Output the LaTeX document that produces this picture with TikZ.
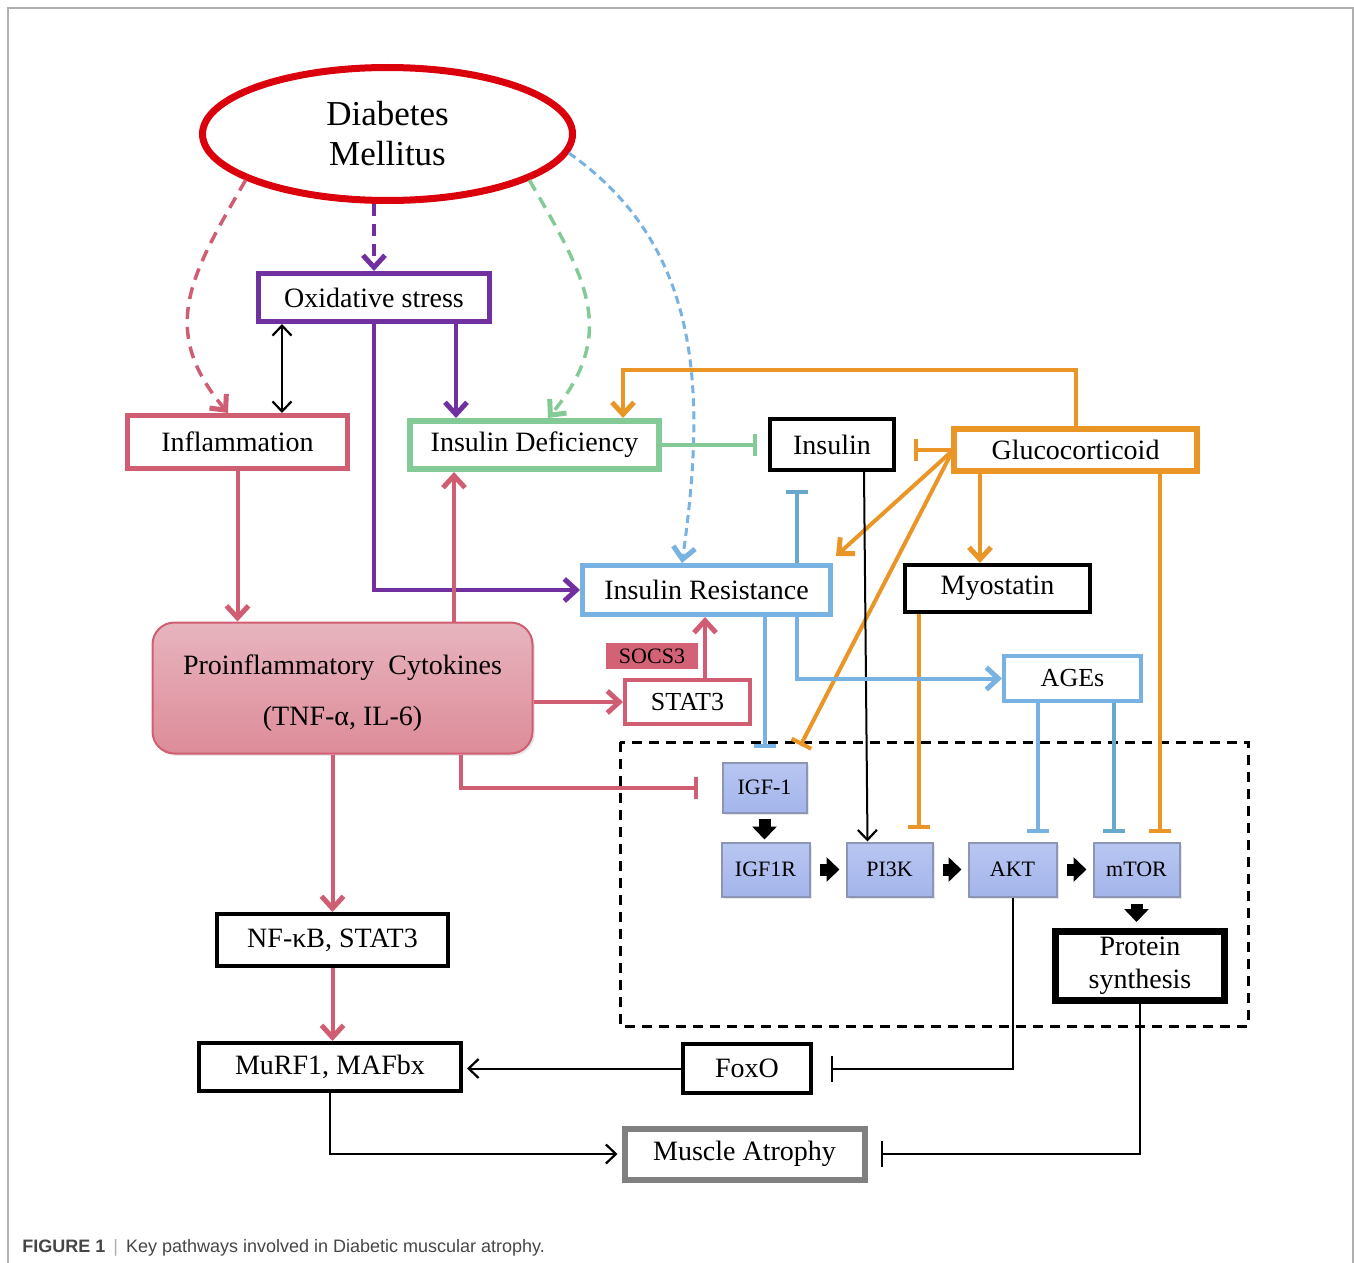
\documentclass[tikz,border=0pt]{standalone}
\usepackage{fontspec}
\setmainfont{Liberation Serif}
\newfontfamily\capfont{Liberation Sans}
\usepackage{xcolor}
\usetikzlibrary{arrows.meta,shapes.geometric,shadows}

\definecolor{dmred}{RGB}{218,0,12}
\definecolor{oxpurple}{RGB}{112,48,160}
\definecolor{infpink}{RGB}{208,94,114}
\definecolor{defgreen}{RGB}{132,202,150}
\definecolor{gcorange}{RGB}{234,150,38}
\definecolor{resblue}{RGB}{120,178,226}
\definecolor{tealblue}{RGB}{104,168,204}
\definecolor{kinfill}{RGB}{164,181,235}
\definecolor{kintop}{RGB}{184,198,241}
\definecolor{kinedge}{RGB}{140,150,180}
\definecolor{cytotop}{RGB}{231,180,190}
\definecolor{cytobot}{RGB}{221,140,153}
\definecolor{socsfill}{RGB}{212,98,118}
\definecolor{atrgray}{RGB}{128,128,128}
\definecolor{framegray}{RGB}{175,175,175}
\definecolor{capgray}{RGB}{70,70,70}

\begin{document}
\begin{tikzpicture}[
    x=0.5pt, y=-0.5pt,
    box/.style={draw, line width=2pt, fill=white, inner sep=0pt, align=center,
                font=\fontsize{14}{16}\selectfont,
                drop shadow={opacity=0.18, shadow xshift=1.2pt, shadow yshift=-1.2pt}},
    kin/.style={draw=kinedge, line width=1pt, top color=kintop, bottom color=kinfill,
                inner sep=0pt, minimum width=43pt, minimum height=27pt,
                font=\fontsize{11}{13}\selectfont,
                drop shadow={opacity=0.18, shadow xshift=1.2pt, shadow yshift=-1.2pt}},
    act/.style={line width=2pt, -{Straight Barb[length=6pt,width=11pt,line width=2.5pt]}},
    inh/.style={line width=2pt, -{Bar[width=11pt]}},
    lnk/.style={line width=1pt, draw=black},
    dsh/.style={dash pattern=on 6pt off 4pt},
    blk/.style={line width=6pt, -{Triangle[length=6.5pt,width=12pt]}, shorten <=2.5pt, shorten >=1pt},
    >={Straight Barb[length=5pt,width=9.5pt,line width=1.1pt]}
  ]
  \useasboundingbox (0,0) rectangle (1354,1263);
  \draw[framegray, line width=1pt] (8,1263) -- (8,8) -- (1353,8) -- (1353,1263);

  \node[ellipse, draw=dmred, line width=3.5pt, fill=white, inner sep=0pt,
        minimum width=185pt, minimum height=66.5pt, align=center,
        font=\fontsize{17.5}{20}\selectfont] (dm) at (387.5,134) {Diabetes\\Mellitus};
  \node[box, draw=oxpurple, line width=2.5pt, minimum width=115.5pt, minimum height=24pt] (oxi) at (374,297.5) {Oxidative stress};
  \node[box, draw=infpink, line width=2.5pt, minimum width=110pt, minimum height=26.5pt] (infl) at (237.5,442) {Inflammation};
  \node[box, draw=defgreen, line width=3pt, minimum width=124.5pt, minimum height=24pt] (insdef) at (534.5,445) {Insulin Deficiency};
  \node[box, minimum width=62pt, minimum height=25.5pt] (insulin) at (832,444.5) {Insulin};
  \node[box, draw=gcorange, line width=3pt, minimum width=121.5pt, minimum height=21pt] (gluco) at (1075.5,450) {Glucocorticoid};
  \node[box, draw=resblue, line width=2.5pt, minimum width=124pt, minimum height=24.5pt] (insres) at (706.5,590) {Insulin Resistance};
  \node[box, minimum width=92.5pt, minimum height=23.5pt] (myo) at (997.5,588.5) {Myostatin};
  \node[box, draw=infpink, line width=1pt, rounded corners=11pt, top color=cytotop, bottom color=cytobot,
        minimum width=190pt, minimum height=65.5pt, font=\fontsize{14}{25.5}\selectfont] (cyto) at (342.5,688) {\rule{0pt}{14.8pt}Proinflammatory\ \ Cytokines\\(TNF-α, IL-6)};
  \node[fill=socsfill, inner sep=0pt, minimum width=46pt, minimum height=13pt,
        font=\fontsize{11}{13}\selectfont] (socs) at (652,656) {SOCS3};
  \node[box, draw=infpink, minimum width=62.5pt, minimum height=22pt, font=\fontsize{13}{15}\selectfont] (stat3) at (687.5,702) {STAT3};
  \node[box, draw=resblue, minimum width=68.5pt, minimum height=22.5pt, font=\fontsize{13}{15}\selectfont] (ages) at (1072.5,678.5) {AGEs};

  \draw[line width=1.5pt, dash pattern=on 5pt off 3.5pt] (620,742) rectangle (1248,1026);

  \node[kin, minimum width=42pt, minimum height=25pt] (igf1) at (764.5,787.5) {IGF-1};
  \node[kin, minimum width=44pt] (igf1r) at (765.5,869.5) {IGF1R};
  \node[kin] (pi3k) at (889.5,869.5) {PI3K};
  \node[kin, minimum width=44pt] (akt) at (1012.5,869.5) {AKT};
  \node[kin] (mtor) at (1136.5,869.5) {mTOR};
  \node[box, line width=3.5pt, minimum width=84.5pt, minimum height=34.5pt, font=\fontsize{14}{16.5}\selectfont] (prot) at (1140,966) {Protein\\synthesis};
  \node[box, minimum width=115.5pt, minimum height=26pt] (nfkb) at (332.5,940) {NF-κB, STAT3};
  \node[box, minimum width=131pt, minimum height=24pt] (murf) at (330,1067) {MuRF1, MAFbx};
  \node[box, minimum width=64pt, minimum height=24.5pt] (foxo) at (747,1068.5) {FoxO};
  \node[box, draw=atrgray, line width=3pt, minimum width=120pt, minimum height=25.5pt] (atro) at (744.5,1154) {Muscle Atrophy};

  \node[anchor=west, inner sep=0pt, text=capgray, font=\capfont\fontsize{9}{11}\selectfont] (cap) at (22,1248)
    {\textbf{FIGURE 1}\hspace{4pt}{\color{framegray}|}\hspace{4pt}Key pathways involved in Diabetic muscular atrophy.};

  \draw[act, draw=oxpurple, dsh] (dm.south -| oxi.north) -- (oxi.north);
  \draw[act, draw=infpink, dsh, line width=1.75pt] (dm.198) to[out=240, in=130, looseness=1.2] ([xshift=-4.75pt]infl.north);
  \draw[act, draw=defgreen, dsh, line width=1.75pt] (dm.-18) to[out=-60, in=50, looseness=1.2] ([xshift=6.75pt]insdef.north);
  \draw[act, draw=resblue, dash pattern=on 4pt off 2.5pt, line width=1.5pt] (dm.-6) to[out=-35, in=82] ([xshift=-12.25pt]insres.north);

  \draw[lnk, <->] ([xshift=22.25pt]infl.north |- oxi.south) -- ([xshift=22.25pt]infl.north);
  \draw[act, draw=oxpurple] ([xshift=-39.25pt]insdef.north |- oxi.south) -- ([xshift=-39.25pt]insdef.north);
  \draw[act, draw=oxpurple] (oxi.south) |- (insres.west);

  \draw[act, draw=infpink] (infl.south) -- (infl.south |- cyto.north);
  \draw[act, draw=infpink] ([xshift=-40.25pt]insdef.south |- cyto.north) -- ([xshift=-40.25pt]insdef.south);
  \draw[act, draw=infpink] (stat3.west -| cyto.east) -- (stat3.west);
  \draw[act, draw=infpink] ([xshift=8.75pt]stat3.north) -- ([xshift=8.75pt]stat3.north |- insres.south);
  \draw[inh, draw=infpink, shorten >=12pt] ([xshift=59.25pt]cyto.south) |- (igf1.west);
  \draw[act, draw=infpink] (nfkb.north |- cyto.south) -- (nfkb.north);
  \draw[act, draw=infpink] (nfkb.south) -- (nfkb.south |- murf.north);

  \draw[inh, draw=defgreen, shorten >=5.5pt] (insdef.east) -- (insdef.east -| insulin.west);

  \draw[inh, draw=gcorange, shorten >=9pt] (gluco.west) -- (gluco.west -| insulin.east);
  \draw[act, draw=gcorange] (gluco.north) -- ++(0,-56) -| ([xshift=44.25pt]insdef.north);
  \draw[act, draw=gcorange] ([yshift=-1pt]gluco.west) -- ([shift={(1.5pt,3.5pt)}]insres.north east);
  \draw[inh, draw=gcorange] ([yshift=-2pt]gluco.west) -- ([shift={(-3.5pt,8pt)}]igf1.north east);
  \draw[act, draw=gcorange] ([xshift=-47.75pt]gluco.south) -- ([xshift=-47.75pt]gluco.south |- myo.north);
  \draw[inh, draw=gcorange, shorten >=4.5pt] ([xshift=42.25pt]gluco.south) -- ([xshift=42.25pt]gluco.south |- mtor.north);
  \draw[inh, draw=gcorange, shorten >=6.5pt] ([xshift=-39.25pt]myo.south) -- ([xshift=-39.25pt]myo.south |- pi3k.north);

  \draw[lnk, ->] ([xshift=16pt]insulin.south) -- ([xshift=-11pt]pi3k.north);

  \draw[inh, draw=tealblue, shorten >=9pt] ([xshift=45.25pt]insres.north) -- ([xshift=45.25pt]insres.north |- insulin.south);
  \draw[inh, draw=resblue, shorten >=7pt] (igf1.north |- insres.south) -- (igf1.north);
  \draw[act, draw=resblue] ([xshift=45.25pt]insres.south) |- (ages.west);
  \draw[inh, draw=resblue, shorten >=4.5pt] ([xshift=-17.25pt]ages.south) -- ([xshift=-17.25pt]ages.south |- akt.north);
  \draw[inh, draw=tealblue, shorten >=4.5pt] ([xshift=20.75pt]ages.south) -- ([xshift=20.75pt]ages.south |- mtor.north);

  \draw[blk] (igf1.south) -- (igf1.south |- igf1r.north);
  \draw[blk, shorten <=4.5pt, shorten >=3pt] (igf1r.east) -- (pi3k.west);
  \draw[blk, shorten <=4.5pt, shorten >=3pt] (pi3k.east) -- (akt.west);
  \draw[blk, shorten <=4.5pt, shorten >=3pt] (akt.east) -- (mtor.west);
  \draw[blk, shorten <=3pt, shorten >=3pt] (mtor.south) -- (mtor.south |- prot.north);

  \draw[lnk, -{Bar[width=13pt]}, shorten >=9pt] (akt.south) |- (foxo.east);
  \draw[lnk, ->, shorten >=2pt] (foxo.west) -- (foxo.west -| murf.east);
  \draw[lnk, ->, shorten >=2pt] (murf.south) |- (atro.west);
  \draw[lnk, -{Bar[width=13pt]}, shorten >=6.5pt] (prot.south) |- (atro.east);
\end{tikzpicture}
\end{document}
